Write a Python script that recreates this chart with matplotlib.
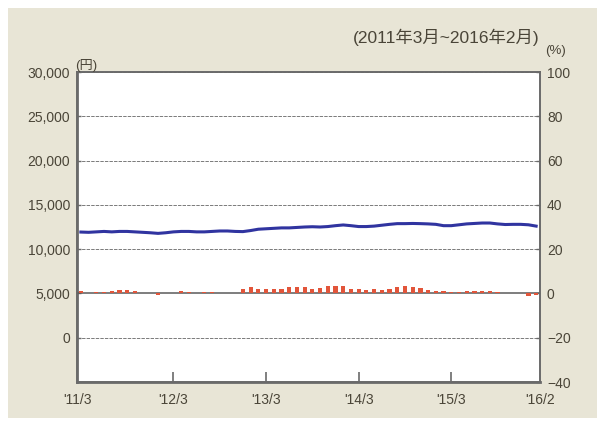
import matplotlib
matplotlib.use("Agg")
import matplotlib.pyplot as plt
from matplotlib.patches import Rectangle
import numpy as np

# ---- data ----
months = list(range(60))  # 2011/3 .. 2016/2
price_yen = [11930, 11900, 11950, 12000, 11950, 12000, 12000, 11950, 11900, 11850,
             11780, 11850, 11950, 12000, 12000, 11950, 11950, 12000, 12050, 12050,
             12000, 11980, 12100, 12250, 12300, 12350, 12400, 12400, 12450, 12500,
             12530, 12500, 12550, 12650, 12730, 12650, 12550, 12550, 12600, 12700,
             12800, 12880, 12880, 12900, 12880, 12850, 12800, 12650, 12650, 12750,
             12850, 12900, 12950, 12950, 12850, 12780, 12800, 12800, 12750, 12600]
change_pct = [1.0, 0.0, 0.5, 0.6, 0.9, 1.5, 1.5, 0.9, 0.4, 0.0,
              -0.6, 0.0, 0.0, 0.9, 0.5, 0.4, 0.5, 0.8, 0.4, 0.0,
              0.4, 2.1, 3.0, 2.1, 2.1, 2.1, 2.1, 3.0, 3.0, 3.0,
              2.1, 2.5, 3.2, 3.2, 3.2, 2.2, 2.0, 1.5, 2.0, 1.5,
              2.2, 3.0, 3.2, 3.0, 2.5, 1.5, 1.0, 1.0, 0.5, 0.6,
              0.9, 1.3, 1.3, 0.9, 0.5, 0.0, 0.0, 0.0, -1.0, -0.6]
xtick_pos = [-0.5, 12, 24, 36, 48, 59.5]
xtick_labels = ["'11/3", "'12/3", "'13/3", "'14/3", "'15/3", "'16/2"]
left_ticks = [0, 5000, 10000, 15000, 20000, 25000, 30000]
right_ticks = [-40, -20, 0, 20, 40, 60, 80, 100]
title_text = "(2011年3月~2016年2月)"

FONT = ['Liberation Sans', 'Noto Sans CJK JP', 'DejaVu Sans']
plt.rcParams['font.family'] = FONT
TXT = '#4a4538'
SP = '#6a6a6a'

fig = plt.figure(figsize=(5.99, 4.21), dpi=100)
fig.patch.set_facecolor('white')
fig.patches.append(Rectangle((8/599, 1-418/421), (597-8)/599, (418-8)/421,
                             transform=fig.transFigure, facecolor='#e8e5d6',
                             edgecolor='none', zorder=-10))

ax = fig.add_axes([77/599, 1-382/421, (540-77)/599, (382-72)/421])
ax.set_facecolor('white')
ax.set_xlim(-0.5, 59.5)
ax.set_ylim(-5000, 30000)

ax2 = ax.twinx()
ax2.set_ylim(-40, 100)
ax2.patch.set_visible(False)

# grid
for v in left_ticks:
    if v == 5000:
        continue
    ax.axhline(v, color='#7a7a7a', lw=0.7, ls=(0, (3.5, 1.2)), zorder=1)
ax2.axhline(0, color='#5a5a5a', lw=1.1, zorder=1)

ax.plot(months, price_yen, color='#3034a0', lw=2.2, zorder=3)
ax2.bar(months, change_pct, width=0.55, color='#e2553a', zorder=3)

for a in (ax, ax2):
    for s in a.spines.values():
        s.set_color(SP)
        s.set_linewidth(1.2)
ax.spines['left'].set_linewidth(2.0)
ax.spines['bottom'].set_linewidth(2.0)

ax.set_yticks(left_ticks)
ax.set_yticklabels([f"{v:,}" for v in left_ticks])
ax2.set_yticks(right_ticks)
ax2.set_yticklabels([f"{v}".replace('-', '\u2212') for v in right_ticks])
ax.tick_params(axis='y', direction='in', length=3, width=1, color=SP,
               labelsize=10, labelcolor=TXT, pad=5)
ax2.tick_params(axis='y', direction='in', length=3, width=1, color=SP,
                labelsize=10, labelcolor=TXT, pad=5)

ax.set_xticks(xtick_pos)
ax.set_xticklabels(xtick_labels)
ax.tick_params(axis='x', direction='in', length=7, width=1.2, color=SP,
               labelsize=10, labelcolor=TXT, pad=8)
ticks = ax.xaxis.get_major_ticks()
ticks[0].tick1line.set_visible(False)
ticks[-1].tick1line.set_visible(False)

fig.text(75/599, 1-65/421, "(円)", fontsize=9.5, color=TXT, ha='left', va='center')
fig.text(545/599, 1-51/421, "(%)", fontsize=9.5, color=TXT, ha='left', va='center')
fig.text(540/599, 1-37/421, title_text, fontsize=12.5, color=TXT, ha='right', va='center')

fig.savefig('out.png', dpi=100, facecolor=fig.get_facecolor())
